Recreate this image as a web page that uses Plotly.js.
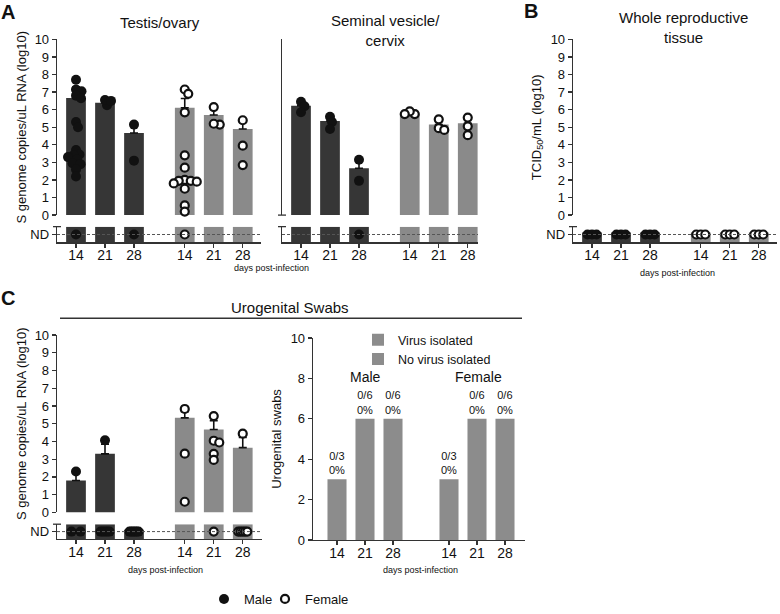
<!DOCTYPE html>
<html><head><meta charset="utf-8">
<script src="https://cdn.plot.ly/plotly-3.0.1.min.js"></script>
<style>html,body{margin:0;padding:0;background:#fff}#chart{width:780px;height:614px}</style>
</head><body><div id="chart"></div>
<script>
// ================= DATA =================
const days = ["14", "21", "28"];

// Panel A – Testis/ovary (log10 S genome copies/uL RNA)
const testisMaleMean = [6.67, 6.4, 4.67];
const testisMaleSem  = [0.62, 0.12, 0.45];
const testisMaleD14  = [7.7, 7.15, 7.05, 6.8, 6.65, 5.3, 5.0, 3.7, 3.45, 3.4, 3.3, 3.15, 2.95, 2.9, 2.6, 2.2];
const testisMaleD21  = [6.25, 6.55, 6.5];
const testisMaleD28  = [5.15, 3.1];
const testisMaleND   = [1, 0, 1];
const ovaryFemaleMean = [6.11, 5.7, 4.9];
const ovaryFemaleSem  = [0.53, 0.42, 0.52];
const ovaryFemaleD14  = [7.15, 6.9, 5.85, 3.4, 2.7, 2.0, 1.95, 1.95, 1.9, 1.8, 1.5, 0.55, 0.2];
const ovaryFemaleD21  = [6.15, 5.15, 5.2];
const ovaryFemaleD28  = [5.4, 3.95, 2.85];
const ovaryFemaleND   = [1, 0, 0];

// Panel A – Seminal vesicle/cervix
const svMaleMean = [6.22, 5.36, 2.67];
const svMaleSem  = [0.15, 0.3, 0.5];
const svMaleD14  = [6.45, 6.2, 5.85];
const svMaleD21  = [5.6, 5.3, 4.9];
const svMaleD28  = [3.15, 1.95];
const svMaleND   = [0, 0, 1];
const cxFemaleMean = [5.74, 5.15, 5.23];
const cxFemaleSem  = [0.12, 0.22, 0.35];
const cxFemaleD14  = [5.75, 5.9, 5.75];
const cxFemaleD21  = [5.45, 4.95, 4.85];
const cxFemaleD28  = [5.55, 5.05, 4.55];
const cxFemaleND   = [0, 0, 0];

// Panel B – Whole reproductive tissue (TCID50/mL, all not detected)
const wholeMaleND   = [3, 3, 3];
const wholeFemaleND = [3, 3, 3];

// Panel C – Urogenital swabs (log10 S genome copies/uL RNA)
const swabMaleMean = [1.8, 3.3, 0];
const swabMaleSem  = [0.45, 0.55, 0];
const swabMaleD14  = [2.3];
const swabMaleD21  = [4.07];
const swabMaleD28  = [];
const swabMaleND   = [2, 5, 6];
const swabFemaleMean = [5.33, 4.67, 3.65];
const swabFemaleSem  = [0.35, 0.5, 0.57];
const swabFemaleD14  = [5.83, 3.31, 0.6];
const swabFemaleD21  = [5.43, 4.04, 3.94, 3.3, 2.96];
const swabFemaleD28  = [4.44];
const swabFemaleND   = [0, 1, 5];

// Panel C – virus isolation from urogenital swabs
const isoMaleTotal      = [3, 6, 6];
const isoMaleIsolated   = [0, 0, 0];
const isoFemaleTotal    = [3, 6, 6];
const isoFemaleIsolated = [0, 0, 0];

// ================= STYLE / GEOMETRY =================
const W = 780, H = 614;
const FONT = '"Liberation Sans", Arial, Helvetica, sans-serif';
const AX = '#333';
const TXT = '#111111';
const MALE_BAR = '#363636', FEMALE_BAR = '#8a8a8a', SWAB_BAR = '#8c8c8c';
const BW = 0.68;

const geo = {
  A1: {xa:'x',  ym:'y',  yn:'y2', xd:[57,261],  first:76,  unit:29, gap:1.75, main:[40,218.3], nd:[230,246]},
  A2: {xa:'x2', ym:'y3', yn:'y4', xd:[282,478], first:301, unit:29, gap:1.75, main:[40,218.3], nd:[230,246]},
  B:  {xa:'x3', ym:'y5', yn:'y6', xd:[573,777], first:592, unit:29, gap:1.75, main:[40,218.3], nd:[230,246]},
  C1: {xa:'x4', ym:'y7', yn:'y8', xd:[57,262],  first:76,  unit:29, gap:1.75, main:[340,520], nd:[532,547]},
  C2: {xa:'x5', ym:'y9',          xd:[313,525], first:337, unit:28, gap:2,    main:[343,548]}
};
const xPos = (i, gap) => i < 3 ? i : i - 1 + gap;

// deterministic beeswarm (pixel space)
function swarm(vals, xu, yu, d) {
  const order = vals.map((v, i) => i).sort((a, b) => vals[b] - vals[a]);
  const placed = [], res = new Array(vals.length).fill(0);
  order.forEach(i => {
    const y = vals[i] * yu;
    let dx = 0;
    for (let k = 0; k < 400; k++) {
      const c = k === 0 ? 0 : ((k % 2) ? 1 : -1) * Math.ceil(k / 2) * 0.5;
      if (placed.every(p => (c - p.x) ** 2 + (y - p.y) ** 2 >= d * d)) { dx = c; break; }
    }
    placed.push({x: dx, y}); res[i] = dx / xu;
  });
  return res;
}

let legendDone = {male:false, female:false};
function panelTraces(g, groups) {
  const out = [];
  const yu = (g.main[1] - g.main[0]) / 10;
  ['male', 'female'].forEach(sex => {
    const s = groups[sex];
    const off = sex === 'male' ? 0 : 3;
    const xs = [0, 1, 2].map(i => xPos(i + off, g.gap));
    const col = sex === 'male' ? MALE_BAR : FEMALE_BAR;
    const hasMean = s.mean ? s.mean.map(v => v > 0) : [false, false, false];
    if (s.mean) {
      out.push({type:'bar', x:xs, y:s.mean.map(v => v > 0 ? v : null), width:BW,
        marker:{color:col, line:{width:0}}, xaxis:g.xa, yaxis:g.ym, showlegend:false, hoverinfo:'skip',
        error_y:{type:'data', symmetric:false, array:s.sem, arrayminus:s.sem.map(() => 0),
                 color:'#111', thickness:1.6, width:4}});
    }
    // ND strip bars
    out.push({type:'bar', x:xs, y:xs.map((_, i) => hasMean[i] ? 2 : (s.nd[i] > 0 ? 1.25 : null)), base:0,
      width:BW, marker:{color:col, line:{width:0}}, xaxis:g.xa, yaxis:g.yn, showlegend:false, hoverinfo:'skip'});
    // detected points
    const px = [], py = [];
    (s.pts || [[], [], []]).forEach((arr, i) => {
      const o = swarm(arr, g.unit, yu, 5.6);
      arr.forEach((v, j) => { px.push(xs[i] + o[j]); py.push(v); });
    });
    const mk = sex === 'male'
      ? {size:10, color:'#111', line:{width:0}}
      : {size:8, color:'#fff', line:{width:2.2, color:'#111'}};
    const name = sex === 'male' ? 'Male' : 'Female';
    const showLeg = !legendDone[sex];
    legendDone[sex] = true;
    out.push({type:'scatter', mode:'markers', x:px, y:py, marker:mk, xaxis:g.xa, yaxis:g.ym,
      cliponaxis:false, hoverinfo:'skip', name, showlegend:showLeg,
      legend: sex === 'male' ? 'legend' : 'legend3'});
    // ND points
    const nx = [], ny = [];
    s.nd.forEach((n, i) => {
      const sp = n > 1 ? Math.min(10, 9 / (n - 1)) : 0;
      for (let j = 0; j < n; j++) { nx.push(xs[i] + ((j - (n - 1) / 2) * sp) / g.unit); ny.push(1); }
    });
    if (nx.length) out.push({type:'scatter', mode:'markers', x:nx, y:ny, marker:mk, xaxis:g.xa, yaxis:g.yn,
      cliponaxis:false, hoverinfo:'skip', showlegend:false});
  });
  return out;
}

const traces = [];
traces.push(...panelTraces(geo.A1, {
  male:{mean:testisMaleMean, sem:testisMaleSem, pts:[testisMaleD14, testisMaleD21, testisMaleD28], nd:testisMaleND},
  female:{mean:ovaryFemaleMean, sem:ovaryFemaleSem, pts:[ovaryFemaleD14, ovaryFemaleD21, ovaryFemaleD28], nd:ovaryFemaleND}}));
traces.push(...panelTraces(geo.A2, {
  male:{mean:svMaleMean, sem:svMaleSem, pts:[svMaleD14, svMaleD21, svMaleD28], nd:svMaleND},
  female:{mean:cxFemaleMean, sem:cxFemaleSem, pts:[cxFemaleD14, cxFemaleD21, cxFemaleD28], nd:cxFemaleND}}));
traces.push(...panelTraces(geo.B, {
  male:{nd:wholeMaleND}, female:{nd:wholeFemaleND}}));
traces.push(...panelTraces(geo.C1, {
  male:{mean:swabMaleMean, sem:swabMaleSem, pts:[swabMaleD14, swabMaleD21, swabMaleD28], nd:swabMaleND},
  female:{mean:swabFemaleMean, sem:swabFemaleSem, pts:[swabFemaleD14, swabFemaleD21, swabFemaleD28], nd:swabFemaleND}}));

// Panel C right – isolation counts
const c2x = [0, 1, 2, 3, 4, 5].map(i => xPos(i, geo.C2.gap));
const isoTotal = isoMaleTotal.concat(isoFemaleTotal);
const isoPos = isoMaleIsolated.concat(isoFemaleIsolated);
traces.push({type:'bar', name:'Virus isolated', x:c2x, y:isoPos, width:BW, marker:{color:SWAB_BAR},
  xaxis:'x5', yaxis:'y9', legend:'legend2', showlegend:true, hoverinfo:'skip'});
traces.push({type:'bar', name:'No virus isolated', x:c2x, y:isoTotal.map((t, i) => t - isoPos[i]), base:isoPos,
  width:BW, marker:{color:SWAB_BAR}, xaxis:'x5', yaxis:'y9', legend:'legend2', showlegend:true, hoverinfo:'skip',
  text:isoTotal.map((t, i) => `${isoPos[i]}/${t}<br>${Math.round(100 * isoPos[i] / t)}%`),
  textposition:'outside', textfont:{size:11, color:TXT}, outsidetextfont:{size:11, color:TXT, family:FONT},
  cliponaxis:false});

// ================= AXES =================
function xAxis(g, anchor) {
  const r0 = -(g.first - g.xd[0]) / g.unit, r1 = r0 + (g.xd[1] - g.xd[0]) / g.unit;
  return {domain:[g.xd[0] / W, g.xd[1] / W], range:[r0, r1], anchor, showline:true, linecolor:AX, linewidth:1.3,
    ticks:'outside', ticklen:4, tickwidth:1.3, tickcolor:AX, ticklabelstandoff:-4,
    tickvals:[0, 1, 2, 3, 4, 5].map(i => xPos(i, g.gap)), ticktext:days.concat(days),
    tickfont:{size:14, color:TXT}, showgrid:false, zeroline:false, fixedrange:true};
}
function yMain(g, o) {
  return Object.assign({domain:[1 - g.main[1] / H, 1 - g.main[0] / H], range:[0, 10], anchor:g.xa,
    showline:true, linecolor:AX, linewidth:1.3, ticks:'outside', ticklen:4, tickwidth:1.3, tickcolor:AX,
    tickvals:[0,1,2,3,4,5,6,7,8,9,10], tickfont:{size:13, color:TXT}, showgrid:false, zeroline:false, fixedrange:true}, o);
}
function yND(g, o) {
  return Object.assign({domain:[1 - g.nd[1] / H, 1 - g.nd[0] / H], range:[0, 2], anchor:g.xa,
    showline:true, linecolor:AX, linewidth:1.3, ticks:'outside', ticklen:4, tickwidth:1.3, tickcolor:AX,
    tickvals:[1], ticktext:['ND'], tickfont:{size:13, color:TXT}, showgrid:false, zeroline:false, fixedrange:true}, o);
}
const yTitle = (t, so) => ({text:t, font:{size:13, color:TXT}, standoff:so});
const legBase = {orientation:'h', xanchor:'left', yanchor:'middle', font:{size:13, color:TXT},
  bgcolor:'rgba(0,0,0,0)', traceorder:'normal'};

const layout = {
  width:W, height:H, margin:{l:0, r:0, t:0, b:0}, paper_bgcolor:'#fff', plot_bgcolor:'rgba(0,0,0,0)',
  barmode:'overlay', font:{family:FONT, size:13, color:TXT}, showlegend:true, hovermode:false,
  legend:Object.assign({x:204 / W, y:1 - 608 / H}, legBase),
  legend3:Object.assign({x:265 / W, y:1 - 608 / H}, legBase),
  legend2:{x:358 / W, y:1 - 330 / H, xanchor:'left', yanchor:'top', font:{size:12.5, color:TXT},
    bgcolor:'rgba(0,0,0,0)', tracegroupgap:0, traceorder:'normal'},
  xaxis:xAxis(geo.A1, 'y2'), xaxis2:xAxis(geo.A2, 'y4'), xaxis3:xAxis(geo.B, 'y6'),
  xaxis4:xAxis(geo.C1, 'y8'), xaxis5:xAxis(geo.C2, 'y9'),
  yaxis:yMain(geo.A1, {title:yTitle('S genome copies/uL RNA (log10)', 5)}),
  yaxis2:yND(geo.A1),
  yaxis3:yMain(geo.A2, {ticks:'', showticklabels:false}),
  yaxis4:yND(geo.A2, {ticks:'', showticklabels:false}),
  yaxis5:yMain(geo.B, {title:yTitle('TCID<sub>50</sub>/mL (log10)', 6)}),
  yaxis6:yND(geo.B),
  yaxis7:yMain(geo.C1, {title:yTitle('S genome copies/uL RNA (log10)', 5)}),
  yaxis8:yND(geo.C1),
  yaxis9:yMain(geo.C2, {tickvals:[0, 2, 4, 6, 8, 10], title:yTitle('Urogenital swabs', 6)})
};

const ann = (x, y, text, size, extra) => Object.assign({xref:'paper', yref:'paper', x:x / W, y:1 - y / H,
  text, showarrow:false, xanchor:'center', yanchor:'middle', font:{size, color:TXT, family:FONT}}, extra || {});
layout.annotations = [
  ann(8, 12, '<b>A</b>', 20), ann(531, 11, '<b>B</b>', 20), ann(8, 302, '<b>C</b>', 20),
  ann(160, 23, 'Testis/ovary', 15),
  ann(385, 31, 'Seminal vesicle/<br>cervix', 15),
  ann(683, 28, 'Whole reproductive<br>tissue', 15),
  ann(271, 272, 'days post-infection', 9), ann(677, 277, 'days post-infection', 9),
  ann(165, 578, 'days post-infection', 9), ann(420, 578, 'days post-infection', 9),
  ann(290, 312, 'Urogenital Swabs', 15),
  ann(365, 383, 'Male', 14), ann(478, 383, 'Female', 14)
];

const line = (x0, y0, x1, y1, extra) => Object.assign({type:'line', xref:'paper', yref:'paper',
  x0:x0 / W, x1:x1 / W, y0:1 - y0 / H, y1:1 - y1 / H, line:{color:AX, width:1.3}}, extra || {});
const ndDash = (xa, yn) => ({type:'line', xref:xa + ' domain', yref:yn, x0:0, x1:1, y0:1, y1:1,
  line:{color:'#555', width:1, dash:'3px,2px'}, layer:'above'});
layout.shapes = [
  ndDash('x', 'y2'), ndDash('x2', 'y4'), ndDash('x3', 'y6'), ndDash('x4', 'y8'),
  // axis break caps
  line(53, geo.A1.nd[0], 61, geo.A1.nd[0]),
  line(278, geo.A2.main[1], 286, geo.A2.main[1]), line(278, geo.A2.nd[0], 286, geo.A2.nd[0]),
  line(569, geo.B.nd[0], 577, geo.B.nd[0]),
  line(53, geo.C1.nd[0], 61, geo.C1.nd[0]),
  // Urogenital swabs header rule
  line(60, 323, 522, 323)
];

Plotly.newPlot('chart', traces, layout, {displayModeBar:false, staticPlot:true});
</script></body></html>
